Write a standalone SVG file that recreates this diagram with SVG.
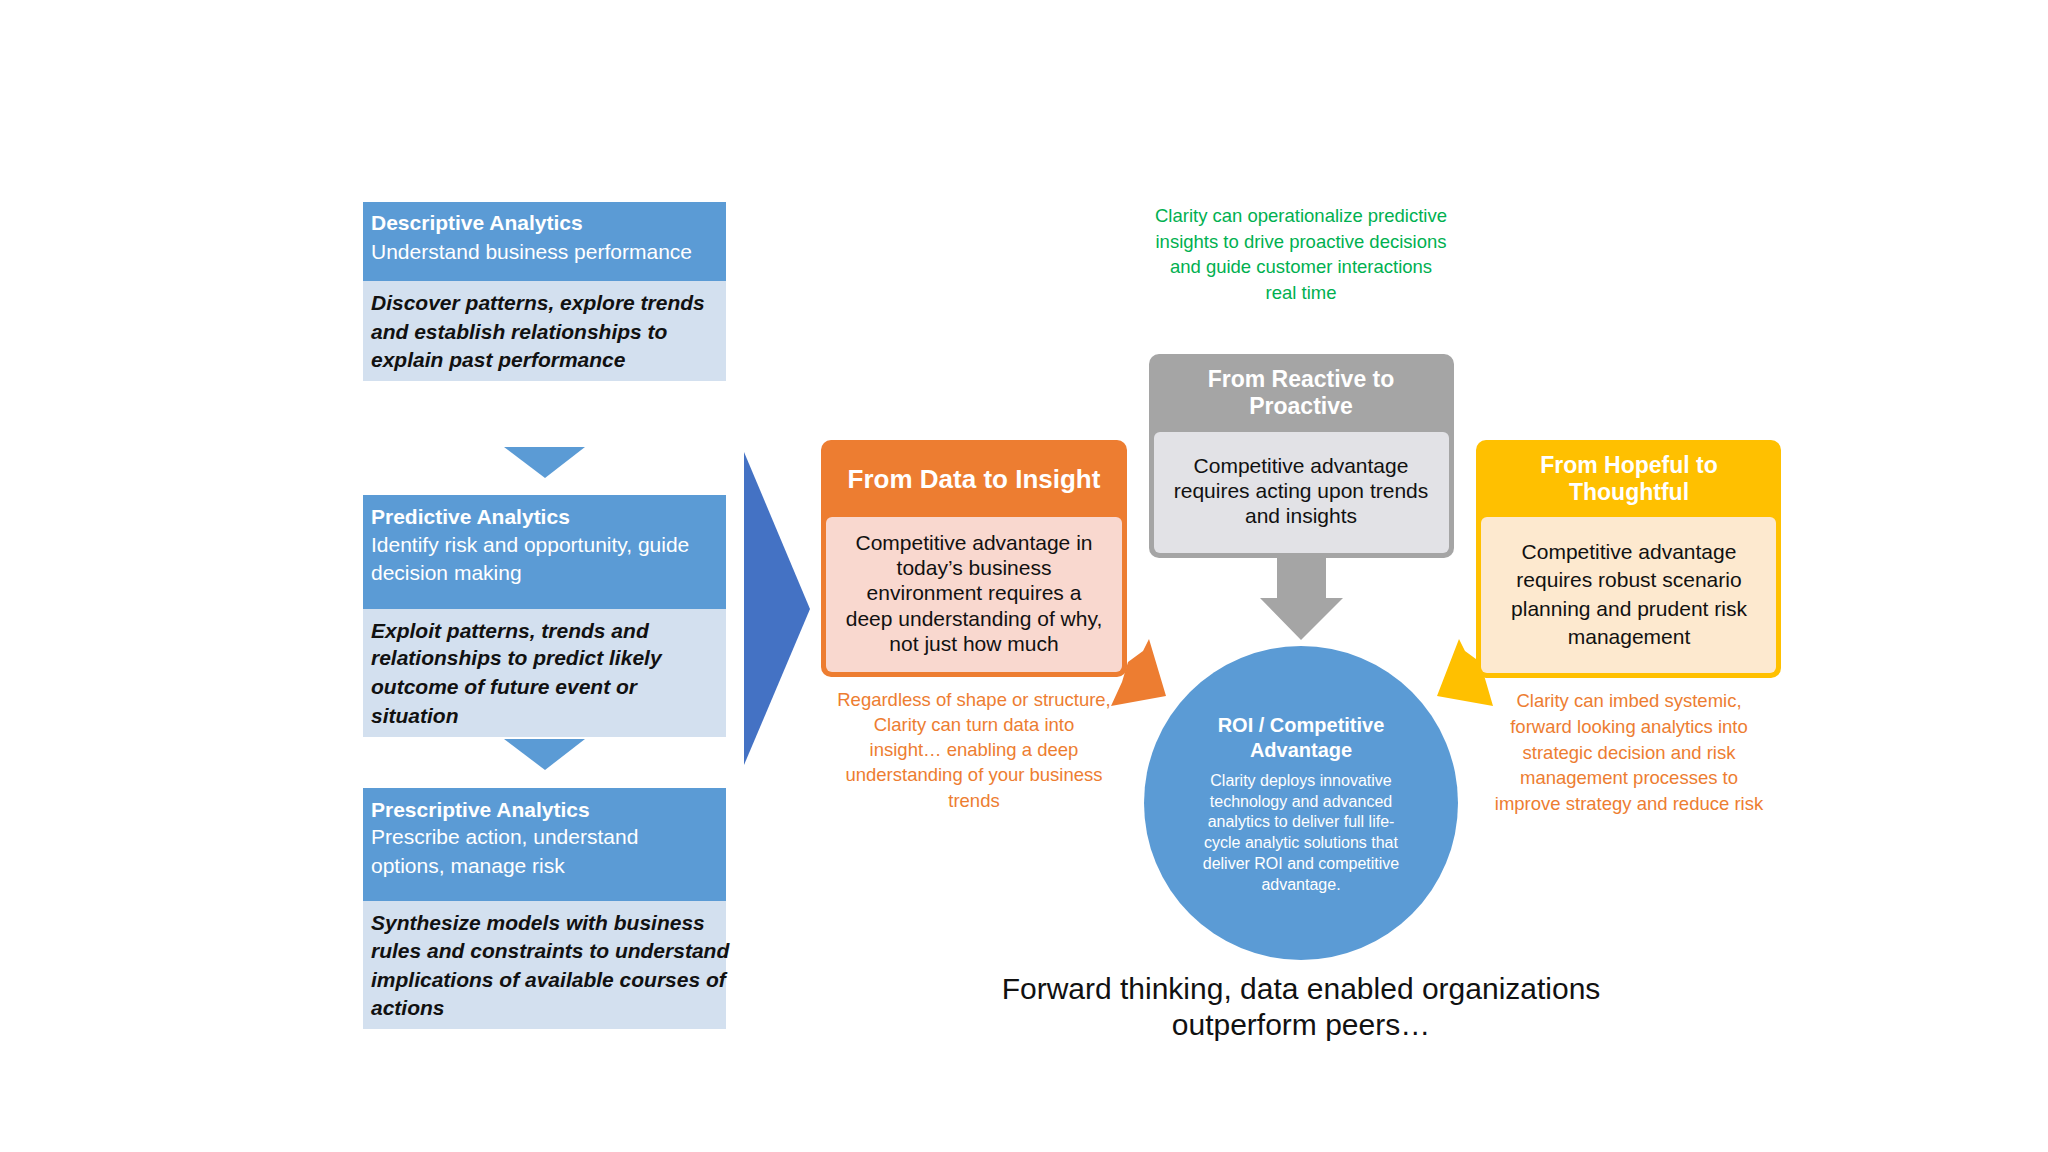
<svg xmlns="http://www.w3.org/2000/svg" width="2048" height="1152" viewBox="0 0 2048 1152">
<style>
text{font-family:"Liberation Sans","Open Sans",sans-serif}
.lh{fill:#fff;font-size:21px;font-weight:bold}
.ls{fill:#fff;font-size:21px}
.lb{fill:#111;font-size:21px;font-weight:bold;font-style:italic}
.hd{fill:#fff;font-weight:bold;text-anchor:middle}
.bd{fill:#111;font-size:21px;text-anchor:middle}
.cap{fill:#ED7D31;font-size:18.5px;text-anchor:middle}
</style>
<rect width="2048" height="1152" fill="#fff"/>
<g id="descriptive">
<rect x="363" y="202" width="363" height="79" fill="#5B9BD5"/>
<rect x="363" y="281" width="363" height="100" fill="#D3E0EF"/>
<text class="lh" x="371" y="230">Descriptive Analytics</text>
<text class="ls" x="371" y="259">Understand business performance</text>
<text class="lb" x="371" y="310">Discover patterns, explore trends</text>
<text class="lb" x="371" y="339">and establish relationships to</text>
<text class="lb" x="371" y="367">explain past performance</text>
</g>
<g id="predictive">
<rect x="363" y="495" width="363" height="114" fill="#5B9BD5"/>
<rect x="363" y="609" width="363" height="128" fill="#D3E0EF"/>
<text class="lh" x="371" y="524">Predictive Analytics</text>
<text class="ls" x="371" y="552">Identify risk and opportunity, guide</text>
<text class="ls" x="371" y="580">decision making</text>
<text class="lb" x="371" y="638">Exploit patterns, trends and</text>
<text class="lb" x="371" y="665">relationships to predict likely</text>
<text class="lb" x="371" y="694">outcome of future event or</text>
<text class="lb" x="371" y="723">situation</text>
</g>
<g id="prescriptive">
<rect x="363" y="788" width="363" height="113" fill="#5B9BD5"/>
<rect x="363" y="901" width="363" height="128" fill="#D3E0EF"/>
<text class="lh" x="371" y="817">Prescriptive Analytics</text>
<text class="ls" x="371" y="844">Prescribe action, understand</text>
<text class="ls" x="371" y="873">options, manage risk</text>
<text class="lb" x="371" y="930">Synthesize models with business</text>
<text class="lb" x="371" y="958">rules and constraints to understand</text>
<text class="lb" x="371" y="987">implications of available courses of</text>
<text class="lb" x="371" y="1015">actions</text>
</g>
<g id="connectors">
<polygon points="504,447 585,447 545,478" fill="#5B9BD5"/>
<polygon points="504,739 585,739 545,770" fill="#5B9BD5"/>
<polygon points="744,452 810,609 744,765" fill="#4472C4"/>
<polygon points="1128,662 1143,651 1149,639 1166,696 1111,706 1122,682" fill="#ED7D31"/>
<polygon points="1277,558 1326,558 1326,598 1343,598 1301,640 1260,598 1277,598" fill="#A5A5A5"/>
<polygon points="1480,662 1465,651 1459,639 1437,696 1493,706 1486,682" fill="#FFC000"/>
</g>
<g id="data-insight">
<rect x="821" y="440" width="306" height="237" rx="10" fill="#ED7D31"/>
<rect x="826" y="517" width="296" height="155" rx="6" fill="#F9D8CF"/>
<text class="hd" x="974" y="488" font-size="26">From Data to Insight</text>
<text class="bd" x="974" y="550">Competitive advantage in</text>
<text class="bd" x="974" y="575">today’s business</text>
<text class="bd" x="974" y="600">environment requires a</text>
<text class="bd" x="974" y="626">deep understanding of why,</text>
<text class="bd" x="974" y="651">not just how much</text>
</g>
<g id="reactive">
<rect x="1149" y="354" width="305" height="204" rx="10" fill="#A5A5A5"/>
<rect x="1154" y="432" width="295" height="121" rx="6" fill="#E2E2E6"/>
<text class="hd" x="1301" y="387" font-size="23">From Reactive to</text>
<text class="hd" x="1301" y="414" font-size="23">Proactive</text>
<text class="bd" x="1301" y="473">Competitive advantage</text>
<text class="bd" x="1301" y="498">requires acting upon trends</text>
<text class="bd" x="1301" y="523">and insights</text>
</g>
<g id="hopeful">
<rect x="1476" y="440" width="305" height="238" rx="10" fill="#FFC000"/>
<rect x="1481" y="517" width="295" height="156" rx="6" fill="#FDE9CF"/>
<text class="hd" x="1629" y="473" font-size="23">From Hopeful to</text>
<text class="hd" x="1629" y="500" font-size="23">Thoughtful</text>
<text class="bd" x="1629" y="559">Competitive advantage</text>
<text class="bd" x="1629" y="587">requires robust scenario</text>
<text class="bd" x="1629" y="616">planning and prudent risk</text>
<text class="bd" x="1629" y="644">management</text>
</g>
<g id="roi">
<circle cx="1301" cy="803" r="157" fill="#5B9BD5"/>
<text class="hd" x="1301" y="732" font-size="20">ROI / Competitive</text>
<text class="hd" x="1301" y="757" font-size="20">Advantage</text>
<g fill="#fff" font-size="16" text-anchor="middle">
<text x="1301" y="786">Clarity deploys innovative</text>
<text x="1301" y="807">technology and advanced</text>
<text x="1301" y="827">analytics to deliver full life-</text>
<text x="1301" y="848">cycle analytic solutions that</text>
<text x="1301" y="869">deliver ROI and competitive</text>
<text x="1301" y="890">advantage.</text>
</g>
</g>
<g id="green-note" fill="#00B050" font-size="18.5" text-anchor="middle">
<text x="1301" y="222">Clarity can operationalize predictive</text>
<text x="1301" y="248">insights to drive proactive decisions</text>
<text x="1301" y="273">and guide customer interactions</text>
<text x="1301" y="299">real time</text>
</g>
<g id="insight-note">
<text class="cap" x="974" y="706">Regardless of shape or structure,</text>
<text class="cap" x="974" y="731">Clarity can turn data into</text>
<text class="cap" x="974" y="756">insight… enabling a deep</text>
<text class="cap" x="974" y="781">understanding of your business</text>
<text class="cap" x="974" y="807">trends</text>
</g>
<g id="hopeful-note">
<text class="cap" x="1629" y="707">Clarity can imbed systemic,</text>
<text class="cap" x="1629" y="733">forward looking analytics into</text>
<text class="cap" x="1629" y="759">strategic decision and risk</text>
<text class="cap" x="1629" y="784">management processes to</text>
<text class="cap" x="1629" y="810">improve strategy and reduce risk</text>
</g>
<g id="footer" fill="#111" font-size="30" text-anchor="middle">
<text x="1301" y="999">Forward thinking, data enabled organizations</text>
<text x="1301" y="1035">outperform peers…</text>
</g>
</svg>
